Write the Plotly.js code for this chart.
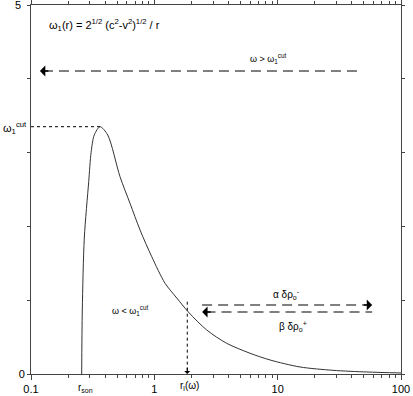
<!DOCTYPE html>
<html>
<head>
<meta charset="utf-8">
<script src="https://cdn.plot.ly/plotly-3.0.1.min.js"></script>
<style>html,body{margin:0;padding:0;background:#fff;}#chart{width:413px;height:396px;}</style>
</head>
<body>
<div id="chart"></div>
<script>
// curve omega_1(r)
const rValues = [0.2576, 0.2606, 0.2705, 0.2937, 0.307, 0.326, 0.363, 0.419, 0.527, 0.635, 0.766, 0.953, 1.222, 1.52, 1.888, 2.66, 3.86, 5.97, 8.67, 15.2, 28.1, 53, 100];
const omegaValues = [0, 0.867, 1.843, 2.606, 3.0, 3.24, 3.351, 3.238, 2.673, 2.313, 1.951, 1.589, 1.229, 1.03, 0.84, 0.596, 0.416, 0.281, 0.19, 0.095, 0.05, 0.027, 0.014];
const omegaCut = 3.351;
const rPeak = 0.363;
const rL = 1.85;
const xTickVals = [0.1, 1, 10, 100];
const xTickText = ['0.1', '1', '10', '100'];
const yTickVals = [0, 1, 2, 3, 4, 5];
const yTickText = ['0', '', '', '', '', ''];
const xMinorVals = [];
[0.1, 1, 10].forEach(d => { for (let k = 2; k <= 9; k++) xMinorVals.push(+(d * k).toPrecision(3)); });

const F = 'Liberation Sans, Arial, Helvetica, sans-serif';
const traces = [
  {x: rValues, y: omegaValues, mode: 'lines', line: {color: '#333', width: 1, shape: 'spline', smoothing: 0.8}, hoverinfo: 'skip'},
  {x: [0.1, rPeak], y: [omegaCut, omegaCut], mode: 'lines', line: {color: '#000', width: 1, dash: 'dot'}, hoverinfo: 'skip'},
  {x: [rL, rL], y: [0.98, 0.02], mode: 'lines', line: {color: '#000', width: 1, dash: 'dot'}, hoverinfo: 'skip'}
];

const dashLine = (x0, x1, y) => ({type: 'line', xref: 'x', yref: 'y', x0: x0, x1: x1, y0: y, y1: y, line: {color: '#555', width: 1.3, dash: '10px,6px'}});
const head = (x, y, dir) => ({x: Math.log10(x), y: y, xref: 'x', yref: 'y', ax: dir * 10, ay: 0, text: '', showarrow: true, arrowhead: 1, arrowsize: 1.4, arrowwidth: 1.3, arrowcolor: '#000'});
const txt = (x, y, t, size, anchor) => ({x: x, y: y, xref: 'paper', yref: 'paper', text: t, showarrow: false, font: {family: F, size: size || 10, color: '#000'}, xanchor: anchor || 'center', yanchor: 'middle'});
// paper coords helpers: plot area px 31..401 x 5..374
const px = p => (p - 31) / 370;
const py = p => (374 - p) / 369;

const layout = {
  width: 413, height: 396,
  margin: {l: 31, r: 12, t: 5, b: 22},
  paper_bgcolor: '#fff', plot_bgcolor: '#fff',
  showlegend: false,
  font: {family: F, size: 11, color: '#000'},
  xaxis: {type: 'log', range: [-1, 2], tickvals: xTickVals, ticktext: xTickText, ticks: 'outside', ticklen: 5, tickcolor: '#444',
    showline: true, linecolor: '#444', linewidth: 1, mirror: 'ticks', showgrid: false, zeroline: false,
    tickfont: {family: F, size: 11, color: '#000'},
    minor: {tickmode: 'array', tickvals: xMinorVals, ticks: 'outside', ticklen: 3, tickcolor: '#444', showgrid: false}},
  yaxis: {range: [0, 5], tickvals: yTickVals, ticktext: yTickText, ticks: 'outside', ticklen: 3, tickcolor: '#444',
    showline: true, linecolor: '#444', linewidth: 1, mirror: 'ticks', showgrid: false, zeroline: false,
    tickfont: {family: F, size: 11, color: '#000'}},
  shapes: [
    dashLine(0.125, 46.6, 4.106),
    dashLine(2.44, 56, 0.935),
    dashLine(2.6, 58.4, 0.84)
  ],
  annotations: [
    head(0.118, 4.106, 1),
    head(58.4, 0.935, -1),
    head(2.44, 0.84, 1),
    {x: Math.log10(rL), y: 0, xref: 'x', yref: 'y', ax: 0, ay: -8, text: '', showarrow: true, arrowhead: 1, arrowsize: 1, arrowwidth: 1, arrowcolor: '#000'},
    txt(px(23), py(5), '5', 11, 'right'),
    txt(px(47), py(25), 'ω<sub>1</sub>(r) = 2<sup>1/2</sup> (c<sup>2</sup>-v<sup>2</sup>)<sup>1/2</sup> / r', 11, 'left'),
    txt(px(268), py(58), 'ω &gt; ω<sub>1</sub><sup>cut</sup>', 9),
    txt(px(130), py(310), 'ω &lt; ω<sub>1</sub><sup>cut</sup>', 9),
    txt(px(286), py(294), 'α δρ<sub>o</sub><sup>-</sup>', 10),
    txt(px(293), py(326), 'β δρ<sub>o</sub><sup>+</sup>', 10),
    txt(px(1), py(128), 'ω<sub>1</sub><sup>cut</sup>', 11, 'left'),
    txt(px(76), py(388), 'r<sub>son</sub>', 10, 'left'),
    txt(px(178), py(386), 'r<sub>l</sub>(ω)', 10, 'left')
  ]
};
Plotly.newPlot('chart', traces, layout, {displayModeBar: false, staticPlot: true});
</script>
</body>
</html>
